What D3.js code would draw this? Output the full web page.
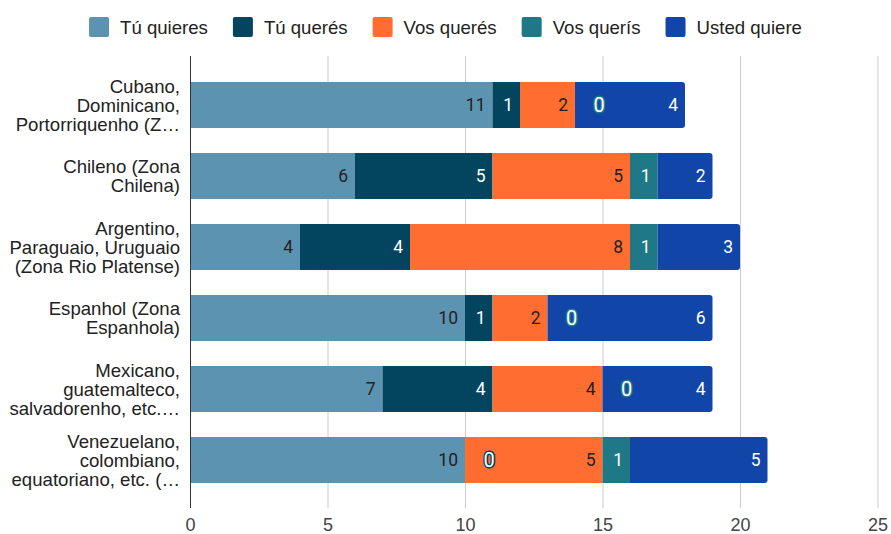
<!DOCTYPE html>
<html>
<head>
<meta charset="utf-8">
<script src="https://cdn.jsdelivr.net/npm/d3@7/dist/d3.min.js"></script>
<style>
  html, body { margin: 0; padding: 0; background: #fff; }
  svg { display: block; }
</style>
</head>
<body>
<svg id="chart" width="891" height="534"></svg>
<script>
// Regional variants of "querer" (2nd person) — counts per dialect zone
const categories = [
  ["Cubano,", "Dominicano,", "Portorriquenho (Z…"],
  ["Chileno (Zona", "Chilena)"],
  ["Argentino,", "Paraguaio, Uruguaio", "(Zona Rio Platense)"],
  ["Espanhol (Zona", "Espanhola)"],
  ["Mexicano,", "guatemalteco,", "salvadorenho, etc.…"],
  ["Venezuelano,", "colombiano,", "equatoriano, etc. (…"]
];
const seriesNames = ["Tú quieres", "Tú querés", "Vos querés", "Vos querís", "Usted quiere"];
const tuQuieres   = [11, 6, 4, 10, 7, 10];
const tuQueres    = [1, 5, 4, 1, 4, 0];
const vosQueres   = [2, 5, 8, 2, 4, 5];
const vosQueris   = [0, 1, 1, 0, 0, 1];
const ustedQuiere = [4, 2, 3, 6, 4, 5];
const seriesColors = ["#5b93b1", "#03455f", "#ff6d31", "#1f7886", "#1146a8"];
const labelColors  = ["#222222", "#ffffff", "#222222", "#ffffff", "#ffffff"];
const xTicks = [0, 5, 10, 15, 20, 25];

const values = [tuQuieres, tuQueres, vosQueres, vosQueris, ustedQuiere];
const svg = d3.select("#chart");
const sansFont = "'Liberation Sans', Arial, sans-serif";
const labelFont = "Roboto, 'Liberation Sans', Arial, sans-serif";
const textSize = 18.6;

const plotTop = 56, plotBottom = 508;
const x = d3.scaleLinear().domain([0, 25]).range([190, 877.5]);
const rowIds = categories.map((c, i) => i);
const y = d3.scaleBand().domain(rowIds).range([69.5, 495.5])
  .paddingInner(25 / 71).paddingOuter(12.5 / 71);

// Stack the series
const table = rowIds.map(i => {
  const o = { row: i };
  seriesNames.forEach((s, k) => { o[s] = values[k][i]; });
  return o;
});
const stacked = d3.stack().keys(seriesNames)(table);

// Vertical gridlines
svg.append("g").selectAll("line").data(xTicks.filter(t => t > 0)).join("line")
  .attr("x1", d => x(d) + 0.5).attr("x2", d => x(d) + 0.5)
  .attr("y1", plotTop).attr("y2", plotBottom)
  .attr("stroke", "#cccccc").attr("stroke-width", 1);

// Bars
const lastKey = seriesNames.length - 1;
stacked.forEach((layer, k) => {
  const g = svg.append("g");
  layer.forEach((seg, i) => {
    const x0 = x(seg[0]), x1 = x(seg[1]);
    const w = x1 - x0;
    if (w <= 0) return;
    const y0 = y(i), h = y.bandwidth();
    if (k === lastKey) {
      const r = 3;
      const p = d3.path();
      p.moveTo(x0, y0);
      p.lineTo(x1 - r, y0);
      p.arcTo(x1, y0, x1, y0 + r, r);
      p.lineTo(x1, y0 + h - r);
      p.arcTo(x1, y0 + h, x1 - r, y0 + h, r);
      p.lineTo(x0, y0 + h);
      p.closePath();
      g.append("path").attr("d", p.toString()).attr("fill", seriesColors[k]);
    } else {
      g.append("rect").attr("x", x0).attr("y", y0).attr("width", w).attr("height", h)
        .attr("fill", seriesColors[k]);
    }
  });
});

// Value labels
stacked.forEach((layer, k) => {
  const g = svg.append("g").attr("font-family", labelFont).attr("font-size", 17.5);
  layer.forEach((seg, i) => {
    const v = seg.data[seriesNames[k]];
    const cy = y(i) + y.bandwidth() / 2;
    if (v === 0) {
      g.append("text")
        .attr("x", x(seg[1]) + 24).attr("y", cy).attr("dy", "0.36em")
        .attr("text-anchor", "middle")
        .attr("font-size", 20)
        .attr("fill", "#ffffff").attr("stroke", seriesColors[k])
        .attr("stroke-width", 3).attr("paint-order", "stroke")
        .attr("stroke-linejoin", "round")
        .text(v);
    } else {
      g.append("text")
        .attr("x", x(seg[1]) - 7).attr("y", cy).attr("dy", "0.36em")
        .attr("text-anchor", "end")
        .attr("fill", labelColors[k])
        .text(v);
    }
  });
});

// Baseline axis at zero
svg.append("line")
  .attr("x1", x(0) + 0.5).attr("x2", x(0) + 0.5)
  .attr("y1", plotTop).attr("y2", plotBottom)
  .attr("stroke", "#333333").attr("stroke-width", 1);

// X axis tick labels
const xAxis = d3.axisBottom(x).tickValues(xTicks).tickSize(0).tickPadding(0);
const ax = svg.append("g").attr("transform", `translate(0, ${plotBottom + 23})`).call(xAxis);
ax.select(".domain").remove();
ax.selectAll("text").attr("font-family", sansFont).attr("font-size", 18)
  .attr("fill", "#444444").attr("dy", 0);

// Category labels (wrapped lines)
const lineH = 19;
const cat = svg.append("g").attr("font-family", sansFont).attr("font-size", textSize)
  .attr("fill", "#222222").attr("text-anchor", "end");
categories.forEach((lines, i) => {
  const cy = y(i) + y.bandwidth() / 2;
  const t = cat.append("text").attr("x", 180).attr("y", cy - (lines.length - 1) * lineH / 2);
  lines.forEach((ln, j) => {
    t.append("tspan").attr("x", 180).attr("dy", j === 0 ? "0.36em" : lineH).text(ln);
  });
});

// Legend
const legend = svg.append("g").attr("font-family", sansFont).attr("font-size", textSize).attr("fill", "#222222");
let cursor = 0;
seriesNames.forEach((name, k) => {
  const gi = legend.append("g");
  gi.append("rect").attr("x", 0).attr("y", -10).attr("width", 20).attr("height", 20)
    .attr("rx", 2).attr("fill", seriesColors[k]);
  const tx = gi.append("text").attr("x", 31).attr("y", 0).attr("dy", "0.36em").text(name);
  const w = 31 + tx.node().getComputedTextLength();
  gi.attr("transform", `translate(${cursor},0)`);
  cursor += w + 25;
});
const legendW = cursor - 25;
legend.attr("transform", `translate(${(891 - legendW) / 2}, 27)`);
</script>
</body>
</html>
